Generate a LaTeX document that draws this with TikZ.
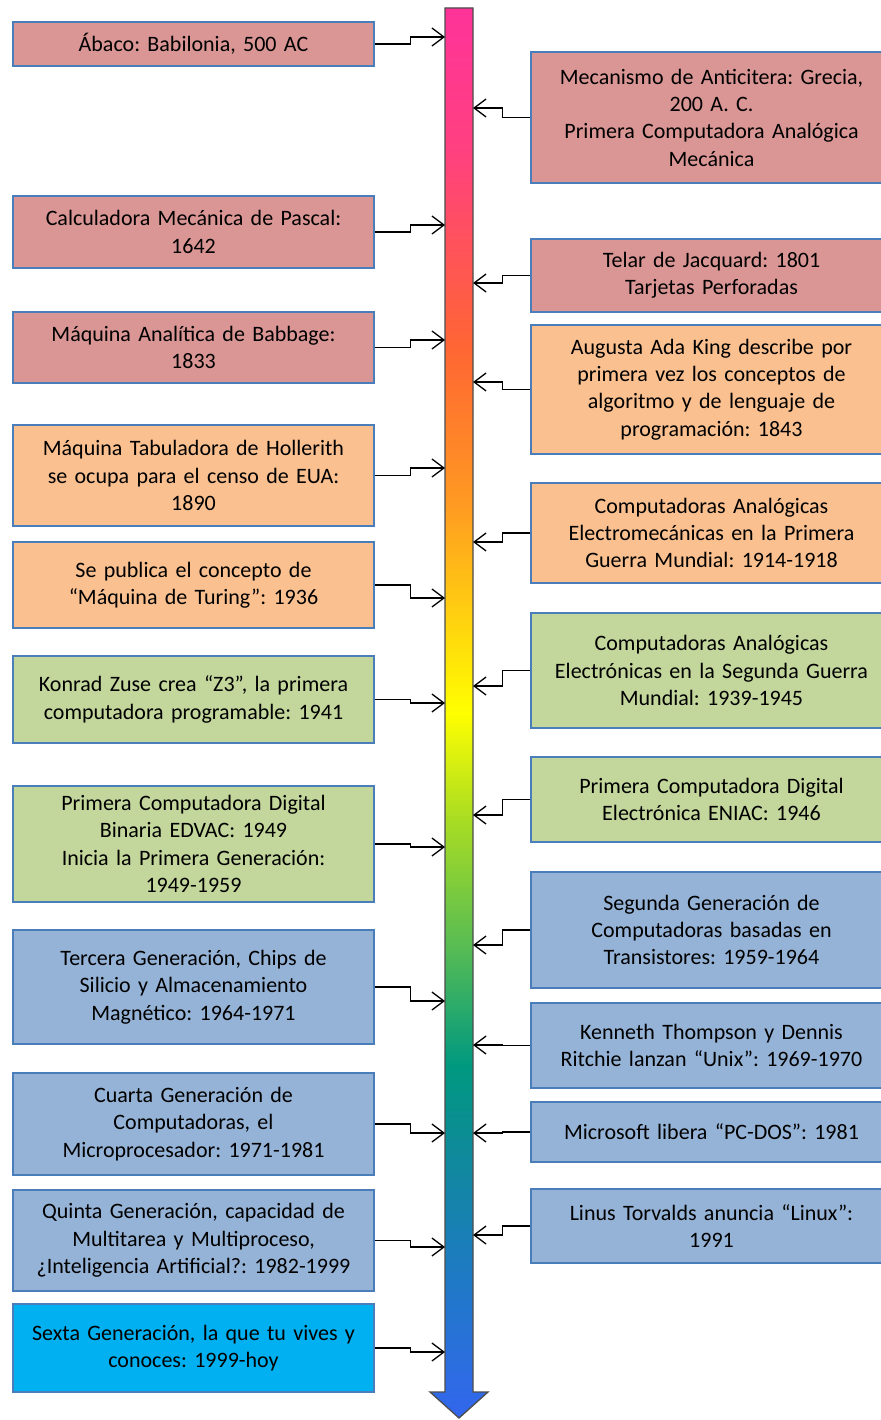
\documentclass[tikz,border=0pt]{standalone}
\usepackage{fontspec}
\setmainfont{Carlito}
\usepackage{xcolor}
\usetikzlibrary{arrows.meta}
\frenchspacing

\definecolor{rojo}{HTML}{D99694}
\definecolor{naranja}{HTML}{FAC090}
\definecolor{verde}{HTML}{C3D69B}
\definecolor{azul}{HTML}{95B3D7}
\definecolor{celeste}{HTML}{00B0F0}
\definecolor{borde}{HTML}{4A7EBB}
\definecolor{ca}{HTML}{FF3399}
\definecolor{cb}{HTML}{FF4080}
\definecolor{cc}{HTML}{FF6633}
\definecolor{cd}{HTML}{FF9922}
\definecolor{ce}{HTML}{FFFF00}
\definecolor{cf}{HTML}{AADD22}
\definecolor{cg}{HTML}{55BB55}
\definecolor{ch}{HTML}{009980}
\definecolor{ci}{HTML}{0E8A99}
\definecolor{cj}{HTML}{2277CC}
\definecolor{ck}{HTML}{3366EE}

\pgfdeclareverticalshading{arcoiris}{100bp}{color(0bp)=(ck); color(25bp)=(ck); color(29.2bp)=(cj); color(34.5bp)=(ci); color(37.5bp)=(ch); color(41.6bp)=(cg); color(46.3bp)=(cf); color(50bp)=(ce); color(57.5bp)=(cd); color(62.9bp)=(cc); color(70bp)=(cb); color(75bp)=(ca); color(100bp)=(ca)}

\begin{document}
\begin{tikzpicture}[x=1pt, y=-1pt,
    evento/.style={draw=borde, line width=1.3pt, minimum width=361pt, text width=355pt,
      align=center, inner sep=0pt, font=\fontsize{22}{27.3}\selectfont},
    conexion/.style={-{Straight Barb[length=12pt,width=18pt]}, line width=1.3pt}]
      \useasboundingbox (0,0) rectangle (880,1420);

      % Linea de tiempo
      \shade[shading=arcoiris, draw=black!70, line width=1.3pt]
        (445,8) -- (473,8) -- (473,1392) -- (488,1392) -- (459,1418) -- (430,1392) -- (445,1392) -- cycle;
      \coordinate (barL) at (445,0);
      \coordinate (barR) at (473,0);

      % Eventos (izquierda)
      \node[evento, fill=rojo, minimum height=44pt] (abaco) at (193.5,44) {Ábaco: Babilonia, 500 AC};
      \node[evento, fill=rojo, minimum height=72pt] (pascal) at (193.5,232) {Calculadora Mecánica de Pascal:\\1642};
      \node[evento, fill=rojo, minimum height=71pt] (babbage) at (193.5,347.5) {Máquina Analítica de Babbage:\\1833};
      \node[evento, fill=naranja, minimum height=101pt] (hollerith) at (193.5,475.5) {Máquina Tabuladora de Hollerith\\se ocupa para el censo de EUA:\\1890};
      \node[evento, fill=naranja, minimum height=86pt] (turing) at (193.5,585) {Se publica el concepto de\\“Máquina de Turing”: 1936};
      \node[evento, fill=verde, minimum height=87pt] (zuse) at (193.5,699.5) {Konrad Zuse crea “Z3”, la primera\\computadora programable: 1941};
      \node[evento, fill=verde, minimum height=116pt] (edvac) at (193.5,844) {Primera Computadora Digital\\Binaria EDVAC: 1949\\Inicia la Primera Generación:\\1949-1959};
      \node[evento, fill=azul, minimum height=114pt] (tercera) at (193.5,987) {Tercera Generación, Chips de\\Silicio y Almacenamiento\\Magnético: 1964-1971};
      \node[evento, fill=azul, minimum height=102pt] (cuarta) at (193.5,1124) {Cuarta Generación de\\Computadoras, el\\Microprocesador: 1971-1981};
      \node[evento, fill=azul, minimum height=101pt] (quinta) at (193.5,1240.5) {Quinta Generación, capacidad de\\Multitarea y Multiproceso,\\¿Inteligencia Artificial?: 1982-1999};
      \node[evento, fill=celeste, minimum height=88pt] (sexta) at (193.5,1348) {Sexta Generación, la que tu vives y\\conoces: 1999-hoy};

      % Eventos (derecha)
      \node[evento, fill=rojo, minimum height=131pt] (anticitera) at (711.5,117.5) {Mecanismo de Anticitera: Grecia,\\200 A. C.\\Primera Computadora Analógica\\Mecánica};
      \node[evento, fill=rojo, minimum height=73pt] (jacquard) at (711.5,275.5) {Telar de Jacquard: 1801\\Tarjetas Perforadas};
      \node[evento, fill=naranja, minimum height=129pt] (ada) at (711.5,389.5) {Augusta Ada King describe por\\primera vez los conceptos de\\algoritmo y de lenguaje de\\programación: 1843};
      \node[evento, fill=naranja, minimum height=100pt] (electromec) at (711.5,533) {Computadoras Analógicas\\Electromecánicas en la Primera\\Guerra Mundial: 1914-1918};
      \node[evento, fill=verde, minimum height=115pt] (electronica) at (711.5,670.5) {Computadoras Analógicas\\Electrónicas en la Segunda Guerra\\Mundial: 1939-1945};
      \node[evento, fill=verde, minimum height=85pt] (eniac) at (711.5,799.5) {Primera Computadora Digital\\Electrónica ENIAC: 1946};
      \node[evento, fill=azul, minimum height=116pt] (segunda) at (711.5,930) {Segunda Generación de\\Computadoras basadas en\\Transistores: 1959-1964};
      \node[evento, fill=azul, minimum height=85pt] (unix) at (711.5,1045.5) {Kenneth Thompson y Dennis\\Ritchie lanzan “Unix”: 1969-1970};
      \node[evento, fill=azul, minimum height=60pt] (msdos) at (711.5,1132) {Microsoft libera “PC-DOS”: 1981};
      \node[evento, fill=azul, minimum height=74pt] (linux) at (711.5,1226) {Linus Torvalds anuncia “Linux”:\\1991};

      % Conectores izquierda
      \draw[conexion] (abaco.east) -- ++(36,0) |- (barL |- 0,37);
      \draw[conexion] (pascal.east) -- ++(36,0) |- (barL |- 0,225);
      \draw[conexion] (babbage.east) -- ++(36,0) |- (barL |- 0,340);
      \draw[conexion] (hollerith.east) -- ++(36,0) |- (barL |- 0,468);
      \draw[conexion] (turing.east) -- ++(36,0) |- (barL |- 0,598);
      \draw[conexion] (zuse.east) -- ++(36,0) |- (barL |- 0,703);
      \draw[conexion] (edvac.east) -- ++(36,0) |- (barL |- 0,847);
      \draw[conexion] (tercera.east) -- ++(36,0) |- (barL |- 0,1001);
      \draw[conexion] (cuarta.east) -- ++(36,0) |- (barL |- 0,1133);
      \draw[conexion] (quinta.east) -- ++(36,0) |- (barL |- 0,1247);
      \draw[conexion] (sexta.east) -- ++(36,0) |- (barL |- 0,1352);

      % Conectores derecha
      \draw[conexion] (anticitera.west) -- ++(-28,0) |- (barR |- 0,108);
      \draw[conexion] (jacquard.west) -- ++(-28,0) |- (barR |- 0,283);
      \draw[conexion] (ada.west) -- ++(-28,0) |- (barR |- 0,382);
      \draw[conexion] (electromec.west) -- ++(-28,0) |- (barR |- 0,542);
      \draw[conexion] (electronica.west) -- ++(-28,0) |- (barR |- 0,686);
      \draw[conexion] (eniac.west) -- ++(-28,0) |- (barR |- 0,815);
      \draw[conexion] (segunda.west) -- ++(-28,0) |- (barR |- 0,945);
      \draw[conexion] (unix.west) -- ++(-28,0) |- (barR |- 0,1045);
      \draw[conexion] (msdos.west) -- ++(-28,0) |- (barR |- 0,1133);
      \draw[conexion] (linux.west) -- ++(-28,0) |- (barR |- 0,1235);
    \end{tikzpicture}
\end{document}
